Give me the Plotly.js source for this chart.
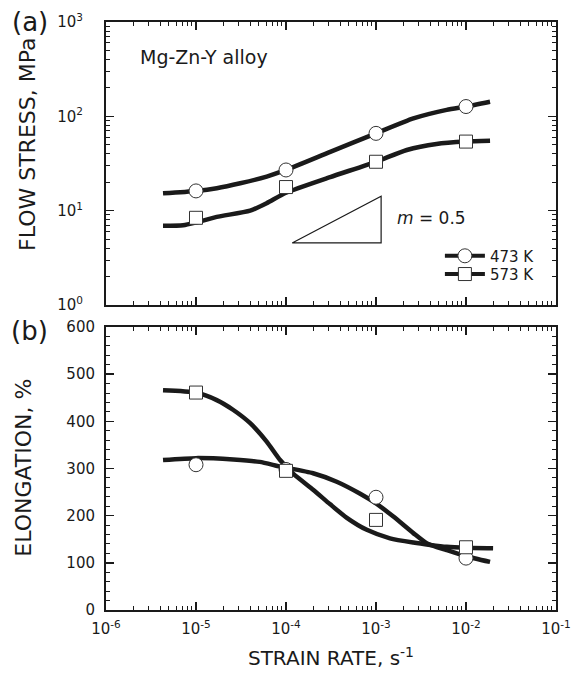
<!DOCTYPE html>
<html>
<head>
<meta charset="utf-8">
<script src="https://cdn.plot.ly/plotly-3.0.1.min.js"></script>
<style>html,body{margin:0;padding:0;background:#fff;}#chart{width:576px;height:676px;}</style>
</head>
<body>
<div id="chart"></div>
<script>
// ---- measured data points ----
const strainRate = [1e-5, 1e-4, 1e-3, 1e-2];
const stress473 = [16.2, 27, 66, 127];
const stress573 = [8.4, 17.8, 33, 54];
const elong473 = [308, 298, 239, 110];
const elong573 = [461, 295, 191, 133];

// ---- fitted curves ----
const fitStress473X = [4.3e-6, 1.0e-5, 1.7e-5, 3.1e-5, 6.1e-5, 1.0e-4, 3.1e-4, 1.0e-3, 2.6e-3, 6.1e-3, 1.0e-2, 1.85e-2];
const fitStress473Y = [15.3, 16.2, 17.3, 19.5, 23, 27, 42, 66, 95, 117, 127, 143];
const fitStress573X = [4.3e-6, 7.2e-6, 1.0e-5, 1.7e-5, 4.0e-5, 6.1e-5, 1.0e-4, 3.1e-4, 1.0e-3, 2.2e-3, 4.7e-3, 1.0e-2, 1.85e-2];
const fitStress573Y = [6.9, 7.0, 7.5, 8.6, 10.0, 12, 15.5, 22.7, 33, 44, 51, 54, 55];

const fitElong473X = [4.3e-6, 1.0e-5, 2.6e-5, 5.1e-5, 8.6e-5, 2.0e-4, 3.66e-4, 6.6e-4, 1.0e-3, 1.56e-3, 2.6e-3, 3.7e-3, 6.1e-3, 1.0e-2, 1.85e-2];
const fitElong473Y = [318, 322, 319, 314, 304, 290, 272, 247, 226, 198, 163, 141, 127, 114, 102];
const fitElong573X = [4.3e-6, 1.0e-5, 1.7e-5, 2.6e-5, 4.0e-5, 6.1e-5, 8.6e-5, 1.2e-4, 2.0e-4, 3.1e-4, 4.7e-4, 7.9e-4, 1.43e-3, 2.6e-3, 4.0e-3, 6.1e-3, 1.0e-2, 2.0e-2];
const fitElong573Y = [466, 461, 445, 424, 396, 357, 318, 289, 255, 224, 196, 170, 152, 143, 138, 134, 132, 131];

// slope triangle (m = 0.5)
const triX = [1.17e-4, 1.14e-3, 1.14e-3, 1.17e-4];
const triY = [4.55, 4.55, 14.2, 4.55];

const legendNames = ['473 K', '573 K'];
const xTickVals = [1e-6, 1e-5, 1e-4, 1e-3, 1e-2, 1e-1];
const xTickText = ['10<sup>-6</sup>', '10<sup>-5</sup>', '10<sup>-4</sup>', '10<sup>-3</sup>', '10<sup>-2</sup>', '10<sup>-1</sup>'];
const yTopTickVals = [1, 10, 100, 1000];
const yTopTickText = ['10<sup>0</sup>', '10<sup>1</sup>', '10<sup>2</sup>', '10<sup>3</sup>'];

// minor tick positions (2..9 in every decade) for the log axes
function logMinors(lo, hi) {
  const out = [];
  for (let e = lo; e < hi; e++) for (let k = 2; k <= 9; k++) out.push(k * Math.pow(10, e));
  return out;
}
const xMinor = logMinors(-6, -1);
const yTopMinor = logMinors(0, 3);

const INK = '#1a1a1a';
const TICK = '#1a1a1a';
const FONT = 'DejaVu Sans, Arial, sans-serif';
const lineStyle = {color: INK, width: 4.5, shape: 'spline', smoothing: 0.6};
const circle = {symbol: 'circle', size: 14, color: '#fff', line: {color: '#333', width: 1}};
const square = {symbol: 'square', size: 13, color: '#fff', line: {color: '#333', width: 1}};

const traces = [
  {x: fitStress473X, y: fitStress473Y, mode: 'lines', line: lineStyle, xaxis: 'x2', yaxis: 'y', showlegend: false, hoverinfo: 'skip'},
  {x: fitStress573X, y: fitStress573Y, mode: 'lines', line: lineStyle, xaxis: 'x2', yaxis: 'y', showlegend: false, hoverinfo: 'skip'},
  {x: triX, y: triY, mode: 'lines', line: {color: INK, width: 1.2}, xaxis: 'x2', yaxis: 'y', showlegend: false, hoverinfo: 'skip'},
  {x: strainRate, y: stress473, mode: 'markers', marker: circle, xaxis: 'x2', yaxis: 'y', showlegend: false},
  {x: strainRate, y: stress573, mode: 'markers', marker: square, xaxis: 'x2', yaxis: 'y', showlegend: false},
  {x: fitElong473X, y: fitElong473Y, mode: 'lines', line: lineStyle, xaxis: 'x', yaxis: 'y2', showlegend: false, hoverinfo: 'skip'},
  {x: fitElong573X, y: fitElong573Y, mode: 'lines', line: lineStyle, xaxis: 'x', yaxis: 'y2', showlegend: false, hoverinfo: 'skip'},
  {x: strainRate, y: elong473, mode: 'markers', marker: circle, xaxis: 'x', yaxis: 'y2', showlegend: false},
  {x: strainRate, y: elong573, mode: 'markers', marker: square, xaxis: 'x', yaxis: 'y2', showlegend: false},
  {x: [null], y: [null], name: legendNames[0], mode: 'lines+markers', line: {color: INK, width: 4}, marker: circle, xaxis: 'x2', yaxis: 'y', legend: 'legend'},
  {x: [null], y: [null], name: legendNames[1], mode: 'lines+markers', line: {color: INK, width: 4}, marker: square, xaxis: 'x2', yaxis: 'y', legend: 'legend2'}
];

const frame = {
  showline: true, linewidth: 2, linecolor: INK, mirror: 'allticks',
  ticks: 'inside', ticklen: 8, tickwidth: 1.5, tickcolor: TICK,
  showgrid: false, zeroline: false, fixedrange: true,
  tickfont: {family: FONT, size: 15, color: INK}
};
const minorLog = vals => ({tickmode: 'array', tickvals: vals, ticks: 'inside', ticklen: 4, tickwidth: 1, tickcolor: TICK, showgrid: false});
const legendBox = (y) => ({x: 0.742, y: y, xanchor: 'left', yanchor: 'top', bgcolor: 'rgba(0,0,0,0)',
  borderwidth: 0, font: {family: FONT, size: 15, color: INK}, itemwidth: 40});

const layout = {
  width: 576, height: 676,
  margin: {l: 106, r: 20, t: 22, b: 66},
  paper_bgcolor: '#fff', plot_bgcolor: '#fff',
  font: {family: FONT, color: INK},
  showlegend: true,
  legend: legendBox(0.630),
  legend2: legendBox(0.599),
  xaxis: Object.assign({}, frame, {
    type: 'log', range: [-6, -1], anchor: 'y2',
    tickmode: 'array', tickvals: xTickVals, ticktext: xTickText,
    ticklabelstandoff: 4,
    minor: minorLog(xMinor),
    title: {text: 'STRAIN RATE, s<sup>-1</sup>', font: {family: FONT, size: 20, color: INK}, standoff: 14}
  }),
  xaxis2: Object.assign({}, frame, {
    type: 'log', range: [-6, -1], anchor: 'y', matches: 'x',
    tickmode: 'array', tickvals: xTickVals, showticklabels: false,
    minor: minorLog(xMinor)
  }),
  yaxis: Object.assign({}, frame, {
    type: 'log', range: [0, 3], domain: [0.5187, 1], anchor: 'x2',
    tickmode: 'array', tickvals: yTopTickVals, ticktext: yTopTickText,
    ticklabelstandoff: 18,
    minor: minorLog(yTopMinor)
  }),
  yaxis2: Object.assign({}, frame, {
    range: [0, 600], domain: [0, 0.4813], anchor: 'x',
    tickmode: 'linear', tick0: 0, dtick: 100,
    ticklabelstandoff: 6,
    minor: {ticks: 'inside', ticklen: 4, tickwidth: 1, tickcolor: TICK, dtick: 20, showgrid: false}
  }),
  annotations: [
    {text: 'FLOW STRESS, MPa', xref: 'paper', yref: 'paper', x: -0.1756, y: 0.7925, textangle: -90,
     showarrow: false, xanchor: 'center', yanchor: 'middle', font: {family: FONT, size: 22, color: INK}},
    {text: 'ELONGATION, %', xref: 'paper', yref: 'paper', x: -0.184, y: 0.2423, textangle: -90,
     showarrow: false, xanchor: 'center', yanchor: 'middle', font: {family: FONT, size: 22, color: INK}},
    {text: '(a)', xref: 'paper', yref: 'paper', x: -0.169, y: 1.0, showarrow: false,
     xanchor: 'center', yanchor: 'middle', font: {family: FONT, size: 26, color: INK}},
    {text: '(b)', xref: 'paper', yref: 'paper', x: -0.169, y: 0.4745, showarrow: false,
     xanchor: 'center', yanchor: 'middle', font: {family: FONT, size: 26, color: INK}},
    {text: 'Mg-Zn-Y alloy', xref: 'paper', yref: 'paper', x: 0.071, y: 0.940, showarrow: false,
     xanchor: 'left', yanchor: 'middle', font: {family: FONT, size: 19, color: INK}},
    {text: '<i>m</i> = 0.5', xref: 'paper', yref: 'paper', x: 0.642, y: 0.667, showarrow: false,
     xanchor: 'left', yanchor: 'middle', font: {family: FONT, size: 17, color: INK}}
  ]
};

Plotly.newPlot('chart', traces, layout, {staticPlot: true, displayModeBar: false});
</script>
</body>
</html>
